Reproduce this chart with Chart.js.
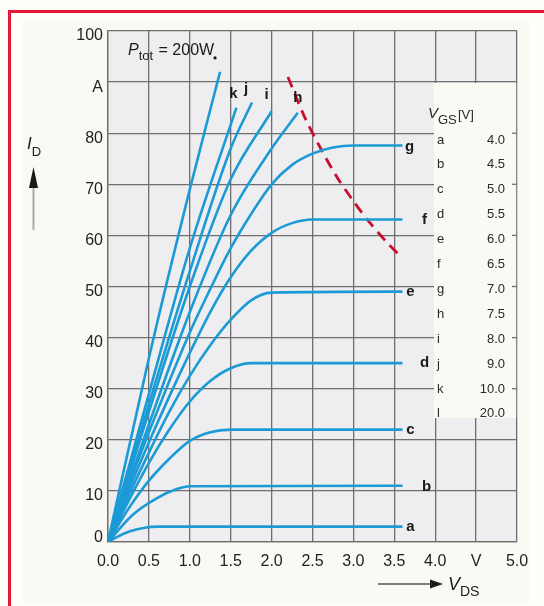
<!DOCTYPE html>
<html>
<head>
<meta charset="utf-8">
<script src="https://cdn.jsdelivr.net/npm/chart.js@4.4.1/dist/chart.umd.min.js"></script>
<style>
  html, body { margin: 0; padding: 0; background: #fffef8; width: 544px; height: 606px; overflow: hidden; }
  .frame { position: absolute; left: 8px; top: 10px; width: 600px; height: 700px;
           border-left: 3px solid #e5163b; border-top: 3px solid #e5163b; }
  .panel { position: absolute; left: 23px; top: 20px; width: 506px; height: 583px; background: #faf9f4; }
  canvas { position: absolute; left: 0; top: 0; }
</style>
</head>
<body>
<div class="frame"></div>
<div class="panel"></div>
<canvas id="c" width="544" height="606"></canvas>
<script>
// tick labels
const xTickLabels = ['0.0', '0.5', '1.0', '1.5', '2.0', '2.5', '3.0', '3.5', '4.0', 'V', '5.0'];
const yTickLabels = ['0', '10', '20', '30', '40', '50', '60', '70', '80', 'A', '100'];

// output curves, [V_DS, I_D]
const curveA = [[0, 0], [0.1, 0.9], [0.25, 2.0], [0.45, 2.8], [0.6, 3.0], [3.6, 3.0]];
const curveB = [[0, 0], [0.3, 5.3], [0.6, 8.6], [0.85, 10.4], [1.0, 10.9], [3.6, 11]];
const curveC = [[0, 0], [0.25, 6.5], [0.5, 12], [0.75, 16.3], [1.0, 19.8], [1.25, 21.5], [1.5, 22], [3.6, 22]];
const curveD = [[0, 0], [0.25, 8], [0.5, 15.5], [0.75, 22], [1.0, 27.5], [1.25, 31.5], [1.5, 34], [1.75, 35], [3.6, 35]];
const curveE = [[0, 0], [0.25, 9], [0.5, 17.5], [0.75, 25.5], [1.0, 32.5], [1.25, 38.5], [1.5, 43.5], [1.75, 47.3], [2.0, 48.8], [3.6, 49]];
const curveF = [[0, 0], [0.25, 10], [0.5, 19.5], [0.75, 28.5], [1.0, 37], [1.25, 45], [1.5, 51.8], [1.75, 57], [2.0, 60.5], [2.25, 62.4], [2.5, 63.1], [3.6, 63.1]];
const curveG = [[0, 0], [0.25, 11], [0.5, 21.5], [0.75, 31.5], [1.0, 41], [1.25, 49.5], [1.5, 57.5], [1.75, 64.2], [2.0, 70], [2.25, 73.8], [2.5, 76], [2.75, 77.2], [3.0, 77.6], [3.6, 77.6]];
const curveH = [[0, 0], [0.5, 23], [1.0, 45], [1.5, 64], [2.0, 77], [2.32, 84]];
const curveI = [[0, 0], [0.5, 25.5], [1.0, 50], [1.5, 71], [2.0, 84.3]];
const curveJ = [[0, 0], [0.5, 27], [1.0, 53], [1.5, 77], [1.76, 86]];
const curveK = [[0, 0], [0.5, 29], [1.0, 57.5], [1.57, 85]];
const curveL = [[0, 0], [0.5, 36], [1.0, 69], [1.37, 92]];

// P_tot = 200 W limit
const powerLimit = [[2.2, 91], [2.4, 83.3], [2.6, 77], [2.8, 71.4], [3.0, 66.7], [3.2, 62.5], [3.4, 58.8], [3.55, 56.3]];

// V_GS table
const vgsNames = ['a', 'b', 'c', 'd', 'e', 'f', 'g', 'h', 'i', 'j', 'k', 'l'];
const vgsValues = [4.0, 4.5, 5.0, 5.5, 6.0, 6.5, 7.0, 7.5, 8.0, 9.0, 10.0, 20.0];

const curves = [curveA, curveB, curveC, curveD, curveE, curveF, curveG, curveH, curveI, curveJ, curveK, curveL];
// label offset from curve end, px
const labelShift = [[8, 0], [24, 1], [8, 0], [22, 0], [8, 0], [22, 0], [7, 1],
                    [0, -15], [-5, -16], [-6, -14], [-3, -14], [-5, -14]];

const BLUE = '#1b9ad6';
const GRID = '#6e6e6e';
const FONT = '"Liberation Sans", Arial, sans-serif';

const toPts = arr => arr.map(p => ({ x: p[0], y: p[1] }));

const datasets = curves.map((c, i) => ({
  label: vgsNames[i],
  data: toPts(c),
  borderColor: BLUE,
  borderWidth: 2.6,
  pointRadius: 0,
  cubicInterpolationMode: 'monotone'
}));
datasets.push({
  label: 'Ptot',
  data: toPts(powerLimit),
  borderColor: '#c8102e',
  borderWidth: 2.8,
  borderDash: [11, 7],
  pointRadius: 0,
  tension: 0.3
});

function subText(ctx, x, y, main, sub, mainFont, subFont, drop) {
  ctx.font = mainFont;
  ctx.fillText(main, x, y);
  const w = ctx.measureText(main).width;
  ctx.font = subFont;
  ctx.fillText(sub, x + w, y + drop);
  return w + ctx.measureText(sub).width;
}

const decor = {
  id: 'decor',
  beforeDraw(chart) {
    const { ctx, chartArea: a } = chart;
    ctx.save();
    ctx.fillStyle = '#eeeef0';
    ctx.fillRect(a.left, a.top, a.right - a.left, a.bottom - a.top);
    ctx.restore();
  },
  beforeDatasetsDraw(chart) {
    const { ctx, chartArea: a, scales: { x, y } } = chart;
    ctx.save();
    // table area hides the grid
    const left = x.getPixelForValue(4.0) - 1.2;
    ctx.fillStyle = '#faf9f4';
    ctx.fillRect(left, 83, a.right - 0.8 - left, 418 - 83);
    ctx.strokeStyle = GRID;
    ctx.lineWidth = 1.3;
    [30, 40, 50, 60, 70, 80].forEach(v => {
      const py = y.getPixelForValue(v);
      ctx.beginPath();
      ctx.moveTo(a.right - 5, py);
      ctx.lineTo(a.right, py);
      ctx.stroke();
    });
    ctx.restore();
  },
  afterDraw(chart) {
    const { ctx, scales: { x, y } } = chart;
    ctx.save();
    ctx.fillStyle = '#1a1a1a';
    ctx.textBaseline = 'alphabetic';
    ctx.textAlign = 'left';

    // P_tot = 200W
    let w = subText(ctx, 128, 55, 'P', 'tot', 'italic 16px ' + FONT, '13px ' + FONT, 5);
    ctx.font = '16px ' + FONT;
    ctx.fillText(' = 200W', 128 + w + 1, 55);

    // curve labels
    ctx.font = 'bold 15px ' + FONT;
    ctx.textAlign = 'center';
    ctx.textBaseline = 'middle';
    curves.forEach((c, i) => {
      const end = c[c.length - 1];
      const px = x.getPixelForValue(end[0]) + labelShift[i][0];
      const py = y.getPixelForValue(end[1]) + labelShift[i][1];
      if (i === 11) {
        ctx.beginPath();
        ctx.arc(px, py, 1.6, 0, Math.PI * 2);
        ctx.fill();
      } else {
        ctx.fillText(vgsNames[i], px, py);
      }
    });

    // V_GS table
    ctx.textBaseline = 'alphabetic';
    ctx.textAlign = 'left';
    ctx.fillStyle = '#2a2a2a';
    w = subText(ctx, 428, 118, 'V', 'GS', 'italic 15px ' + FONT, '13px ' + FONT, 6);
    ctx.font = '13px ' + FONT;
    ctx.fillText('[V]', 458, 119);
    ctx.textBaseline = 'middle';
    vgsNames.forEach((n, i) => {
      const ry = 140 + i * 24.9;
      ctx.textAlign = 'left';
      ctx.fillText(n, 437, ry);
      ctx.textAlign = 'right';
      ctx.fillText(vgsValues[i].toFixed(1), 505, ry);
    });

    // I_D axis title with arrow
    ctx.textAlign = 'left';
    ctx.textBaseline = 'alphabetic';
    ctx.fillStyle = '#1a1a1a';
    subText(ctx, 27, 149, 'I', 'D', 'italic 17px ' + FONT, '13px ' + FONT, 7);
    ctx.strokeStyle = '#a8a8a8';
    ctx.lineWidth = 2;
    ctx.beginPath();
    ctx.moveTo(33.5, 186);
    ctx.lineTo(33.5, 230);
    ctx.stroke();
    ctx.beginPath();
    ctx.moveTo(33.5, 167);
    ctx.lineTo(38, 188);
    ctx.lineTo(29, 188);
    ctx.closePath();
    ctx.fill();

    // V_DS axis title with arrow
    ctx.strokeStyle = '#555';
    ctx.lineWidth = 1.5;
    ctx.beginPath();
    ctx.moveTo(378, 584);
    ctx.lineTo(432, 584);
    ctx.stroke();
    ctx.beginPath();
    ctx.moveTo(443, 584);
    ctx.lineTo(430, 579.5);
    ctx.lineTo(430, 588.5);
    ctx.closePath();
    ctx.fill();
    subText(ctx, 448, 590, 'V', 'DS', 'italic 18px ' + FONT, '14px ' + FONT, 6);
    ctx.restore();
  }
};

new Chart(document.getElementById('c'), {
  type: 'line',
  data: { datasets },
  options: {
    responsive: false,
    animation: false,
    events: [],
    layout: { padding: { left: 0, top: 31, right: 27, bottom: 0 } },
    plugins: { legend: { display: false }, tooltip: { enabled: false } },
    scales: {
      x: {
        type: 'linear',
        min: 0,
        max: 5,
        afterFit: s => { s.height = 64; },
        grid: { color: GRID, lineWidth: 1.3, drawTicks: false },
        border: { color: GRID, width: 1.3 },
        ticks: {
          stepSize: 0.5,
          padding: 10,
          color: '#222',
          font: { family: FONT, size: 16 },
          maxRotation: 0,
          autoSkip: false,
          callback: (v, i) => xTickLabels[i]
        }
      },
      y: {
        type: 'linear',
        min: 0,
        max: 100,
        afterFit: s => { s.width = 108; },
        grid: { color: GRID, lineWidth: 1.3, drawTicks: false },
        border: { color: GRID, width: 1.3 },
        ticks: {
          stepSize: 10,
          padding: 5,
          labelOffset: 5,
          color: '#222',
          font: { family: FONT, size: 16 },
          autoSkip: false,
          callback: (v, i) => (i === 0 ? [yTickLabels[i], ''] : yTickLabels[i])
        }
      }
    }
  },
  plugins: [decor]
});
</script>
</body>
</html>
